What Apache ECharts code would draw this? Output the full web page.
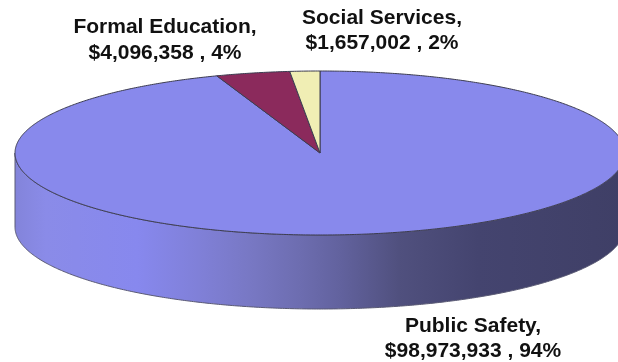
<!DOCTYPE html>
<html>
<head>
<meta charset="utf-8">
<style>html,body{margin:0;padding:0;background:#fff}#chart{width:618px;height:362px}</style>
<script src="https://cdn.jsdelivr.net/npm/echarts@6/dist/echarts.min.js"></script>
</head>
<body>
<div id="chart"></div>
<script>
// Budget by program area, drawn as a tilted pie.
const categories = ['Public Safety', 'Formal Education', 'Social Services'];
const amounts = [98973933, 4096358, 1657002];
const percentLabels = ['94%', '4%', '2%'];
const topColors = ['#8889ec', '#8b2a5c', '#f0eeb4'];

// Disc geometry and label anchors, in pixels.
const disc = { cx: 320, cy: 153, rx: 305, ry: 82, depth: 74 };
const labelAnchors = [[473, 326, 351], [165, 27, 53], [382, 18, 43]];

const sideStops = [
  [0, '#8384da'], [0.05, '#8a8be8'], [0.2, '#8788ee'], [0.3, '#8080d8'],
  [0.385, '#7878c4'], [0.467, '#6d6db0'], [0.533, '#62629e'], [0.63, '#50507e'],
  [0.76, '#44446f'], [1, '#3f3f66']
];

const total = amounts.reduce((a, b) => a + b, 0);
const startAngles = [];
amounts.reduce((sum, v, i) => { startAngles[i] = sum / total * 2 * Math.PI; return sum + v; }, 0);

function rimPoint(t, dy) {
  return [disc.cx + disc.rx * Math.sin(t), disc.cy - disc.ry * Math.cos(t) + (dy || 0)];
}
function arc(from, to, dy) {
  const n = Math.max(2, Math.ceil(Math.abs(to - from) / 0.008));
  const pts = [];
  for (let i = 0; i <= n; i++) pts.push(rimPoint(from + (to - from) * i / n, dy));
  return pts;
}
function money(v) { return '$' + v.toLocaleString('en-US'); }

function renderSlice(params, api) {
  const i = params.dataIndex;
  const value = api.value(0);
  const a0 = startAngles[i];
  const a1 = a0 + value / total * 2 * Math.PI;
  const children = [];

  // Wall of the disc: only the part of the slice on the near half is visible.
  const f0 = Math.max(a0, Math.PI / 2), f1 = Math.min(a1, 3 * Math.PI / 2);
  if (f1 > f0) {
    children.push({
      type: 'polygon',
      shape: { points: arc(f0, f1, 0).concat(arc(f1, f0, disc.depth)) },
      style: {
        fill: new echarts.graphic.LinearGradient(disc.cx - disc.rx, 0, disc.cx + disc.rx, 0,
          sideStops.map(s => ({ offset: s[0], color: s[1] })), true),
        stroke: '#5a5a74', lineWidth: 1
      }
    });
  }
  // Top face of the slice.
  children.push({
    type: 'polygon',
    shape: { points: [[disc.cx, disc.cy]].concat(arc(a0, a1, 0)) },
    style: { fill: topColors[i], stroke: '#3c3c50', lineWidth: 1 }
  });
  // Two-line label: name, then amount and share.
  const anchor = labelAnchors[i];
  [categories[i] + ',', money(value) + ' , ' + percentLabels[i]].forEach((line, k) => {
    children.push({
      type: 'text', z2: 10,
      style: {
        x: anchor[0], y: anchor[k + 1], text: line, align: 'center', verticalAlign: 'middle',
        font: 'bold 21px "Liberation Sans", Arial, sans-serif', fill: '#111'
      }
    });
  });
  return { type: 'group', children };
}

const chart = echarts.init(document.getElementById('chart'));
chart.setOption({
  animation: false,
  backgroundColor: '#fff',
  series: [{
    type: 'custom',
    coordinateSystem: 'none',
    renderItem: renderSlice,
    data: amounts.map(v => [v])
  }]
});
</script>
</body>
</html>
